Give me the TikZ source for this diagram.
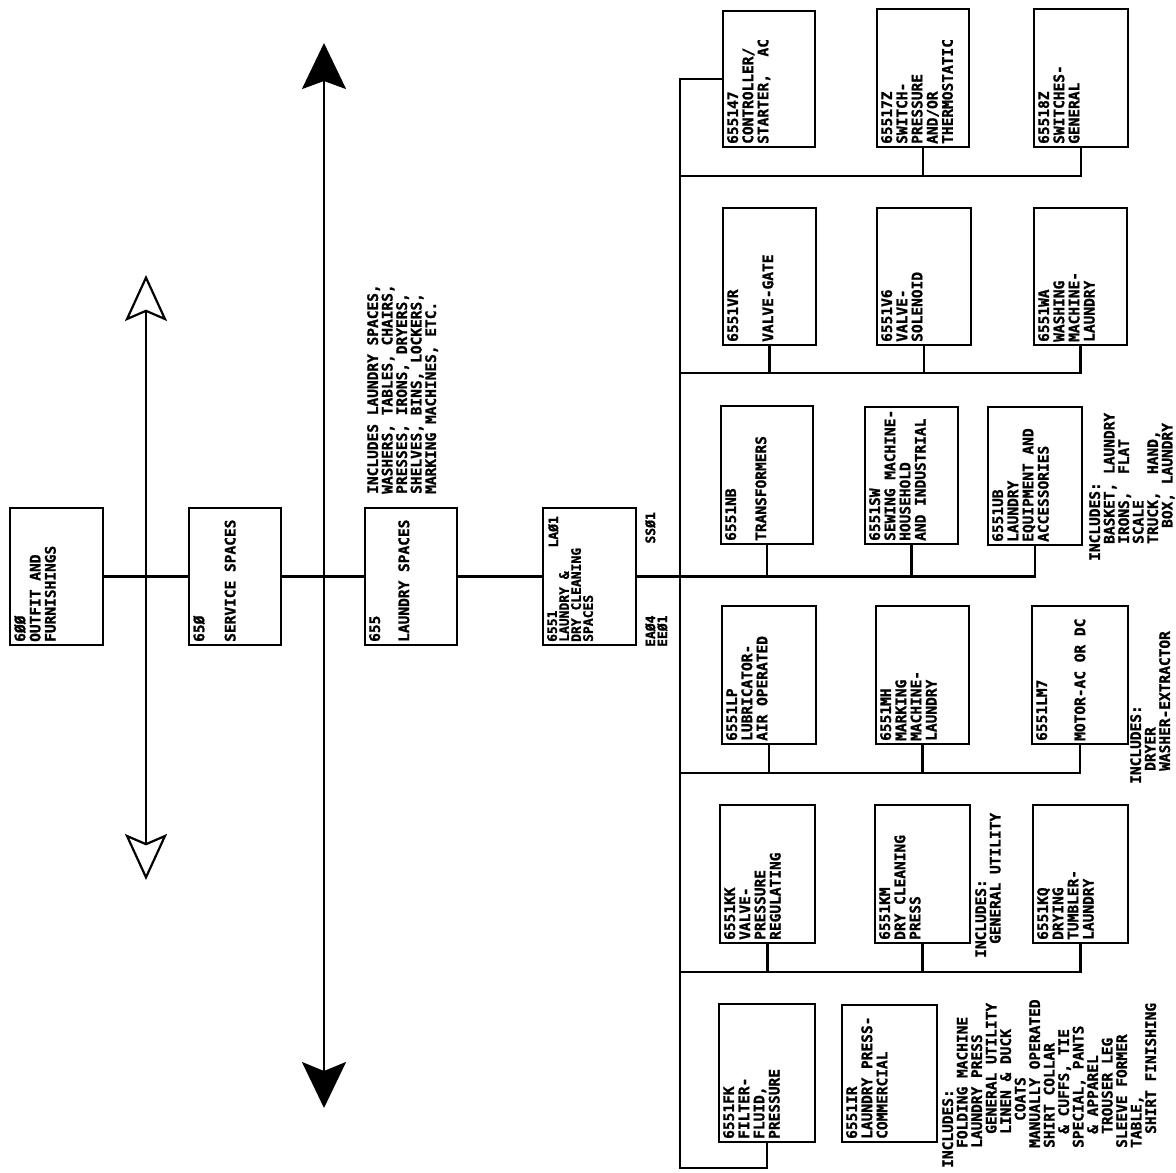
\documentclass[tikz,border=0pt]{standalone}
\usepackage{fontspec}
\setmonofont{DejaVu Sans Mono}[BoldFeatures={FakeBold=1.3}]
\usetikzlibrary{arrows.meta}
\tikzset{
  box/.style={draw, line width=2.8pt, inner sep=0pt, outer sep=0pt},
  conn/.style={line width=2.8pt},
  lbl/.style={rotate=90, anchor=north west, inner sep=0pt, align=left,
    font=\ttfamily\bfseries\fontsize{14.5}{15.2}\selectfont},
  note/.style={lbl, font=\ttfamily\bfseries\fontsize{14.5}{14.5}\selectfont},
  lblsmall/.style={lbl, font=\ttfamily\bfseries\fontsize{13}{12}\selectfont},
  openhead/.style={line width=2.2pt, {Stealth[length=46pt,width=42pt,inset=9pt,fill=white]}-{Stealth[length=46pt,width=42pt,inset=9pt,fill=white]}},
  solidhead/.style={line width=2.4pt, {Stealth[length=46pt,width=44pt,inset=8pt]}-{Stealth[length=46pt,width=44pt,inset=9pt]}},
}
\newcommand\mybox[6]{%
  \node[box, minimum width={(#4-#2)*1pt}, minimum height={(#5-#3)*1pt}] (#1) at ({(#2+#4)/2},{(#3+#5)/2}) {};
  \node[lbl] at ([shift={(4,-3)}]#1.south west) {#6};
}
\begin{document}
\begin{tikzpicture}[x=1pt,y=-1pt]
\useasboundingbox[fill=white] (0,0) rectangle (1176,1173);

% double-headed arrows
\coordinate (ta) at (146,275);
\coordinate (tb) at (146,880);
\coordinate (sa) at (324,43);
\coordinate (sb) at (324,1108);
\draw[openhead] (ta) -- (tb);
\draw[solidhead] (sa) -- (sb);

% main chain
\mybox{b600}{10}{508}{103}{645}{6ØØ\\OUTFIT AND\\FURNISHINGS}
\mybox{b650}{189}{508}{281}{645}{65Ø\\[16pt]SERVICE SPACES}
\mybox{b655}{365}{508}{457}{645}{655\\[14pt]LAUNDRY SPACES}
\node[box, minimum width=93pt, minimum height=137pt] (b6551) at (589.5,576.5) {};
\node[lblsmall] at ([shift={(4,-3)}]b6551.south west) {6551\\LAUNDRY \&\\DRY CLEANING\\SPACES};
\node[lblsmall, anchor=north east] (la01) at (548,516) {LAØ1};
\node[lblsmall, anchor=north east] (ss01) at (645,512) {SSØ1};
\node[lblsmall] (ea04) at (645,647) {EAØ4\\EEØ1};

\node[note] (inc655) at (367,494) {INCLUDES LAUNDRY SPACES,\\WASHERS, TABLES, CHAIRS,\\PRESSES, IRONS, DRYERS,\\SHELVES, BINS, LOCKERS,\\MARKING MACHINES, ETC.};

% right-hand boxes
\mybox{b655147}{723}{11}{815}{147}{655147\\CONTROLLER/\\STARTER,\ \ AC}
\mybox{b65517Z}{877}{9}{969}{147}{65517Z\\SWITCH-\\PRESSURE\\AND/OR\\THERMOSTATIC}
\mybox{b65518Z}{1034}{9}{1128}{147}{65518Z\\SWITCHES-\\GENERAL}

\mybox{bVR}{723}{208}{816}{345}{6551VR\\[20pt]VALVE-GATE}
\mybox{bV6}{877}{208}{971}{345}{6551V6\\VALVE-\\SOLENOID}
\mybox{bWA}{1034}{208}{1127}{345}{6551WA\\WASHING\\MACHINE-\\LAUNDRY}

\mybox{bNB}{721}{406}{813}{544}{6551NB\\[15pt]TRANSFORMERS}
\mybox{bSW}{865}{407}{958}{544}{6551SW\\SEWING MACHINE-\\HOUSEHOLD\\AND INDUSTRIAL}
\mybox{bUB}{988}{407}{1082}{545}{6551UB\\LAUNDRY\\EQUIPMENT AND\\ACCESSORIES}
\node[note] (incUB) at (1089,561) {INCLUDES:\\\hspace*{17pt}BASKET, LAUNDRY\\\hspace*{17pt}IRONS,\ \ FLAT\\\hspace*{17pt}SCALE\\\hspace*{17pt}TRUCK,\ \ HAND,\\\hspace*{33pt}BOX, LAUNDRY};

\mybox{bLP}{722}{606}{816}{744}{6551LP\\LUBRICATOR-\\AIR OPERATED}
\mybox{bMH}{876}{606}{969}{744}{6551MH\\MARKING\\MACHINE-\\LAUNDRY}
\mybox{bLM}{1032}{606}{1128}{744}{6551LM7\\[23pt]MOTOR-AC OR DC}
\node[note] (incLM) at (1130,784) {INCLUDES:\\\hspace*{13pt}DRYER\\\hspace*{13pt}WASHER-EXTRACTOR};

\mybox{bKK}{720}{805}{815}{943}{6551KK\\VALVE-\\PRESSURE\\REGULATING}
\mybox{bKM}{875}{805}{970}{943}{6551KM\\DRY CLEANING\\PRESS}
\mybox{bKQ}{1033}{805}{1128}{943}{6551KQ\\DRYING\\TUMBLER-\\LAUNDRY}
\node[note] (incKM) at (975,958) {INCLUDES:\\\hspace*{14pt}GENERAL UTILITY};

\mybox{bFK}{719}{1004}{815}{1142}{6551FK\\FILTER-\\FLUID,\\PRESSURE}
\mybox{bIR}{842}{1005}{937}{1142}{6551IR\\LAUNDRY PRESS-\\COMMERCIAL}
\node[note] (incIR) at (942,1168) {INCLUDES:\\
\hspace*{20pt}FOLDING MACHINE\\
\hspace*{20pt}LAUNDRY PRESS\\
\hspace*{34pt}GENERAL UTILITY\\
\hspace*{34pt}LINEN \& DUCK\\
\hspace*{47pt}COATS\\
\hspace*{20pt}MANUALLY OPERATED\\
\hspace*{20pt}SHIRT COLLAR\\
\hspace*{34pt}\& CUFFS, TIE\\
\hspace*{20pt}SPECIAL, PANTS\\
\hspace*{34pt}\& APPAREL\\
\hspace*{34pt}TROUSER LEG\\
\hspace*{20pt}SLEEVE FORMER\\
\hspace*{20pt}TABLE,\\
\hspace*{34pt}SHIRT FINISHING};

% bus and branches
\coordinate (busbot) at (680,1168);
\coordinate (r1) at (680,176);
\coordinate (r2) at (680,373);
\coordinate (r3) at (680,576.5);
\coordinate (r4) at (680,773);
\coordinate (r5) at (680,972);

\draw[conn] (b600) -- (b650);
\draw[conn] (b650) -- (b655);
\draw[conn] (b655) -- (b6551);
\draw[conn] (b6551) -- (r3) -| (bUB.south);
\draw[conn] (b655147.west) -| (busbot) -| (bFK.south);

\draw[conn] (r1) -| (b65518Z.south);
\draw[conn] (b65517Z.south) -- (b65517Z.south |- r1);

\draw[conn] (r2) -| (bWA.south);
\draw[conn] (bVR.south) -- (bVR.south |- r2);
\draw[conn] (bV6.south) -- (bV6.south |- r2);

\draw[conn] (bNB.south) -- (bNB.south |- r3);
\draw[conn] (bSW.south) -- (bSW.south |- r3);

\draw[conn] (r4) -| (bLM.south);
\draw[conn] (bLP.south) -- (bLP.south |- r4);
\draw[conn] (bMH.south) -- (bMH.south |- r4);

\draw[conn] (r5) -| (bKQ.south);
\draw[conn] (bKK.south) -- (bKK.south |- r5);
\draw[conn] (bKM.south) -- (bKM.south |- r5);
\end{tikzpicture}
\end{document}
